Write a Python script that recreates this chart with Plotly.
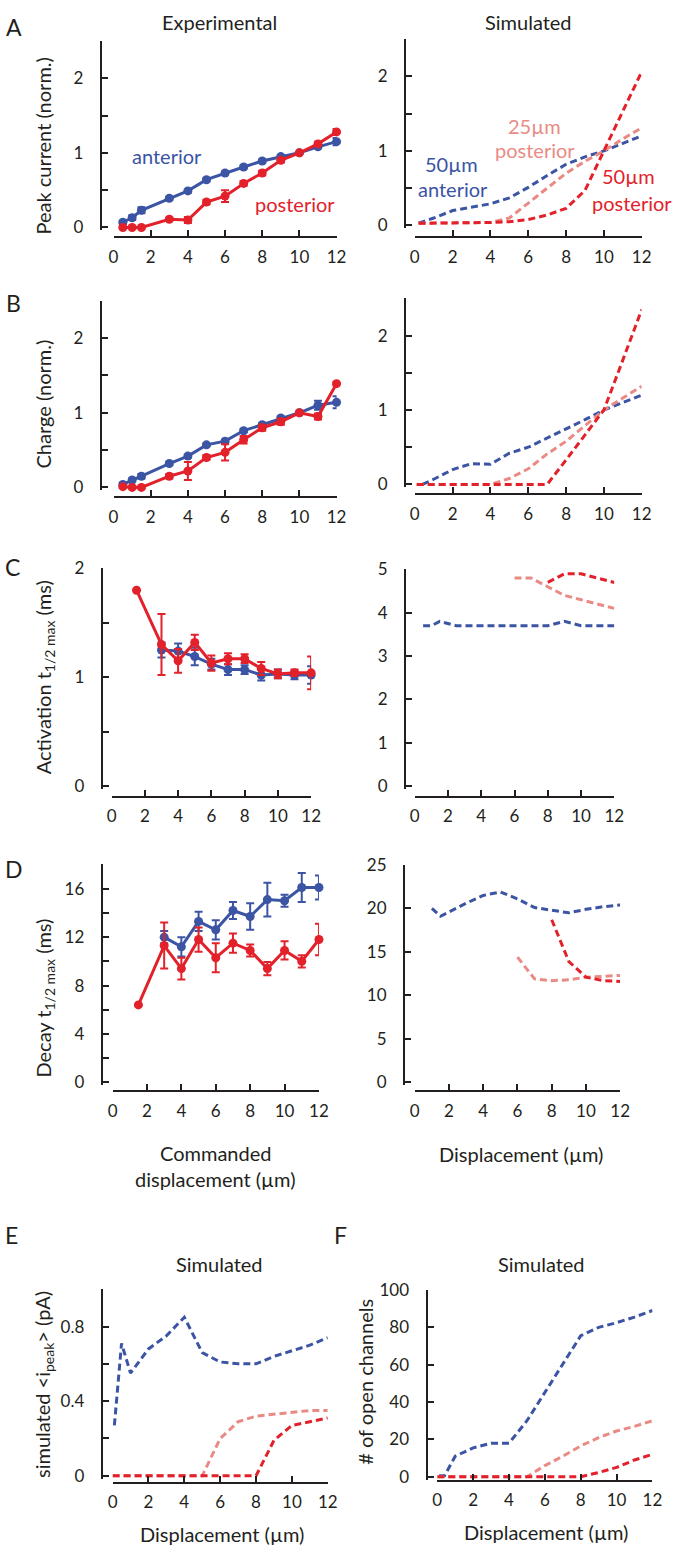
import plotly.graph_objects as go

W, H = 683, 1551
BLUE = '#3B54A4'
RED = '#E3212B'
PINK = '#E98A84'
INK = '#231F20'
FONT = 'Lato'

# ---------------- data ----------------
exp_x = [0.5, 1, 1.5, 3, 4, 5, 6, 7, 8, 9, 10, 11, 12]
# A: peak current, experimental
a_ant = [0.07, 0.13, 0.23, 0.39, 0.49, 0.64, 0.73, 0.81, 0.89, 0.95, 1.0, 1.08, 1.15]
a_ant_err = [0.02, 0.03, 0.04, 0.02, 0.02, 0.02, 0.02, 0.02, 0.02, 0.02, 0.0, 0.02, 0.05]
a_post = [0.0, 0.0, 0.0, 0.11, 0.10, 0.34, 0.42, 0.59, 0.73, 0.90, 1.0, 1.12, 1.28]
a_post_err = [0.01, 0.01, 0.01, 0.02, 0.04, 0.03, 0.08, 0.03, 0.03, 0.03, 0.0, 0.03, 0.04]
# A: simulated
sim_x = [0.2, 1, 2, 3, 4, 5, 6, 7, 8, 9, 10, 11, 12]
a_sim_ant = [0.03, 0.10, 0.20, 0.25, 0.29, 0.37, 0.51, 0.67, 0.82, 0.92, 1.0, 1.10, 1.20]
a_sim_p25 = [0.03, 0.03, 0.03, 0.03, 0.04, 0.10, 0.30, 0.50, 0.70, 0.86, 1.0, 1.16, 1.31]
a_sim_p50 = [0.03, 0.03, 0.03, 0.03, 0.04, 0.05, 0.08, 0.14, 0.23, 0.47, 1.0, 1.53, 2.06]

# B: charge, experimental
b_ant = [0.04, 0.10, 0.15, 0.32, 0.42, 0.57, 0.62, 0.76, 0.84, 0.93, 1.0, 1.10, 1.14]
b_ant_err = [0.02, 0.02, 0.03, 0.02, 0.02, 0.02, 0.02, 0.02, 0.02, 0.02, 0.0, 0.06, 0.08]
b_post = [0.01, 0.0, 0.0, 0.15, 0.22, 0.40, 0.47, 0.64, 0.80, 0.88, 1.0, 0.95, 1.39]
b_post_err = [0.01, 0.01, 0.01, 0.03, 0.12, 0.03, 0.11, 0.05, 0.04, 0.04, 0.0, 0.04, 0.02]
# B: simulated
b_sim_ant_x = [0.4, 1, 2, 3, 4, 5, 6, 7, 8, 9, 10, 11, 12]
b_sim_ant = [0.0, 0.07, 0.20, 0.28, 0.27, 0.42, 0.50, 0.62, 0.74, 0.87, 1.0, 1.10, 1.20]
b_sim_x = [0.1, 1, 2, 3, 4, 5, 6, 7, 8, 9, 10, 11, 12]
b_sim_p25 = [0.0, 0.0, 0.0, 0.0, 0.0, 0.08, 0.21, 0.41, 0.58, 0.79, 1.0, 1.16, 1.32]
b_sim_p50 = [0.0, 0.0, 0.0, 0.0, 0.0, 0.0, 0.0, 0.0, 0.33, 0.67, 1.0, 1.67, 2.35]

# C: activation t1/2, experimental
c_post_x = [1.5, 3, 4, 5, 6, 7, 8, 9, 10, 11, 12]
c_post = [1.80, 1.30, 1.15, 1.32, 1.13, 1.17, 1.17, 1.08, 1.03, 1.04, 1.04]
c_post_err = [0.0, 0.28, 0.11, 0.07, 0.07, 0.05, 0.04, 0.06, 0.04, 0.03, 0.15]
c_ant_x = [3, 4, 5, 6, 7, 8, 9, 10, 11, 12]
c_ant = [1.25, 1.24, 1.19, 1.12, 1.07, 1.07, 1.02, 1.03, 1.02, 1.02]
c_ant_err = [0.07, 0.07, 0.08, 0.05, 0.05, 0.04, 0.05, 0.04, 0.04, 0.08]
# C: simulated
c_sim_ant_x = [0.5, 1, 1.5, 2.5, 4, 6, 8, 9, 10, 12]
c_sim_ant = [3.7, 3.7, 3.8, 3.7, 3.7, 3.7, 3.7, 3.8, 3.7, 3.7]
c_sim_p25_x = [6, 7, 8, 9, 10, 11, 12]
c_sim_p25 = [4.8, 4.8, 4.6, 4.4, 4.3, 4.2, 4.1]
c_sim_p50_x = [8, 9, 10, 11, 12]
c_sim_p50 = [4.7, 4.9, 4.9, 4.8, 4.7]

# D: decay t1/2, experimental
d_post_x = [1.5, 3, 4, 5, 6, 7, 8, 9, 10, 11, 12]
d_post = [6.4, 11.3, 9.4, 11.8, 10.3, 11.5, 10.9, 9.4, 10.9, 10.0, 11.8]
d_post_err = [0.0, 1.9, 0.9, 1.0, 1.2, 0.8, 0.5, 0.55, 0.75, 0.5, 1.3]
d_ant_x = [3, 4, 5, 6, 7, 8, 9, 10, 11, 12]
d_ant = [12.0, 11.2, 13.3, 12.6, 14.2, 13.7, 15.1, 15.0, 16.1, 16.1]
d_ant_err = [0.5, 0.8, 0.8, 0.8, 0.7, 1.1, 1.4, 0.5, 1.2, 1.0]
# D: simulated
d_sim_ant_x = [1, 1.5, 2, 3, 4, 5, 6, 7, 8, 9, 10, 11, 12]
d_sim_ant = [20.0, 19.1, 19.6, 20.6, 21.5, 21.9, 21.1, 20.1, 19.8, 19.5, 19.9, 20.2, 20.4]
d_sim_p25_x = [6, 7, 8, 9, 10, 11, 12]
d_sim_p25 = [14.4, 11.9, 11.7, 11.8, 12.1, 12.2, 12.3]
d_sim_p50_x = [8, 9, 10, 11, 12]
d_sim_p50 = [18.7, 13.9, 12.1, 11.7, 11.6]

# E: simulated single-channel peak current
e_ant_x = [0.1, 0.5, 1, 2, 3, 4, 5, 6, 7, 8, 9, 10, 11, 12]
e_ant = [0.27, 0.71, 0.55, 0.68, 0.75, 0.85, 0.66, 0.61, 0.60, 0.60, 0.64, 0.67, 0.70, 0.74]
ef_x = [0, 1, 2, 3, 4, 5, 6, 7, 8, 9, 10, 11, 12]
e_p25 = [0, 0, 0, 0, 0, 0, 0.20, 0.29, 0.32, 0.33, 0.34, 0.35, 0.35]
e_p50 = [0, 0, 0, 0, 0, 0, 0, 0, 0, 0.19, 0.27, 0.29, 0.31]

# F: number of open channels
f_ant_x = [0.1, 0.4, 1, 2, 3, 4, 5, 6, 7, 8, 9, 10, 11, 12]
f_ant = [0.5, 0.5, 11, 15.5, 18, 18, 30, 45, 60, 75.5, 80, 82.5, 85.5, 89]
f_p25 = [0, 0, 0, 0, 0, 0, 6, 11, 16.5, 21, 24.5, 27, 30]
f_p50 = [0, 0, 0, 0, 0, 0, 0, 0, 0, 2.3, 5, 9, 12]

x_ticks = [0, 2, 4, 6, 8, 10, 12]

fig = go.Figure()
layout = {}


def px(x):
    return x / W


def py(y):
    return 1 - y / H


def panel(n, x0, x12, yax, y0, ppu, ytop, xline, yvals, minor_step):
    pad = 3.0
    xa = 'xaxis' if n == 1 else 'xaxis%d' % n
    ya = 'yaxis' if n == 1 else 'yaxis%d' % n
    layout[xa] = dict(domain=[px(x0), px(x12)], range=[0, 12], anchor='free',
                      position=py(xline), showline=True, linewidth=2.2, linecolor=INK,
                      ticks='inside', ticklen=6, tickwidth=2.2, tickcolor=INK,
                      tickvals=x_ticks, ticktext=[str(v) for v in x_ticks],
                      showgrid=False, zeroline=False, ticklabelstandoff=4,
                      tickfont=dict(family=FONT, size=17, color=INK))
    yd = dict(domain=[py(y0 + pad), py(y0 - ytop * ppu)], range=[-pad / ppu, ytop],
              anchor='free', position=px(yax), showline=True, linewidth=2.2,
              linecolor=INK, ticks='inside', ticklen=6, tickwidth=2.2, tickcolor=INK,
              tickvals=yvals, ticktext=[('%g' % v) for v in yvals],
              showgrid=False, zeroline=False, ticklabelstandoff=13,
              tickfont=dict(family=FONT, size=17, color=INK))
    if minor_step:
        yd['minor'] = dict(tick0=0, dtick=minor_step, ticks='inside', ticklen=6,
                           tickwidth=2.2, tickcolor=INK, showgrid=False)
    layout[ya] = yd
    return ('x' if n == 1 else 'x%d' % n), ('y' if n == 1 else 'y%d' % n)


def exp_trace(xr, yr, x, y, err, color):
    fig.add_trace(go.Scatter(x=x, y=y, xaxis=xr, yaxis=yr, mode='lines+markers',
                             line=dict(color=color, width=3),
                             marker=dict(color=color, size=9),
                             error_y=dict(type='data', array=err, visible=True,
                                          color=color, thickness=2, width=4),
                             cliponaxis=False, showlegend=False))


def sim_trace(xr, yr, x, y, color):
    fig.add_trace(go.Scatter(x=x, y=y, xaxis=xr, yaxis=yr, mode='lines',
                             line=dict(color=color, width=3, dash='7px,4px'),
                             showlegend=False))


# A
xr, yr = panel(1, 111, 339, 98, 219, 75.5, 2.5, 229, [0, 1, 2], 0.5)
exp_trace(xr, yr, exp_x, a_ant, a_ant_err, BLUE)
exp_trace(xr, yr, exp_x, a_post, a_post_err, RED)
xr, yr = panel(2, 419, 651, 409, 217, 75.5, 2.5, 229, [0, 1, 2], 0.5)
sim_trace(xr, yr, sim_x, a_sim_ant, BLUE)
sim_trace(xr, yr, sim_x, a_sim_p25, PINK)
sim_trace(xr, yr, sim_x, a_sim_p50, RED)

# B
xr, yr = panel(3, 111, 339, 98, 482, 75.5, 2.5, 492, [0, 1, 2], 0.5)
exp_trace(xr, yr, exp_x, b_ant, b_ant_err, BLUE)
exp_trace(xr, yr, exp_x, b_post, b_post_err, RED)
xr, yr = panel(4, 419, 651, 409, 479, 75.3, 2.5, 489, [0, 1, 2], 0.5)
sim_trace(xr, yr, b_sim_ant_x, b_sim_ant, BLUE)
sim_trace(xr, yr, b_sim_x, b_sim_p25, PINK)
sim_trace(xr, yr, b_sim_x, b_sim_p50, RED)

# C
xr, yr = panel(5, 109, 313, 99, 784, 110, 2, 795, [0, 1, 2], 0.5)
exp_trace(xr, yr, c_ant_x, c_ant, c_ant_err, BLUE)
exp_trace(xr, yr, c_post_x, c_post, c_post_err, RED)
xr, yr = panel(6, 419, 623, 409, 784, 43.8, 5, 795, [0, 1, 2, 3, 4, 5], None)
sim_trace(xr, yr, c_sim_ant_x, c_sim_ant, BLUE)
sim_trace(xr, yr, c_sim_p25_x, c_sim_p25, PINK)
sim_trace(xr, yr, c_sim_p50_x, c_sim_p50, RED)

# D
xr, yr = panel(7, 110, 321, 99, 1084, 12.25, 18, 1093, [0, 4, 8, 12, 16], 2)
exp_trace(xr, yr, d_ant_x, d_ant, d_ant_err, BLUE)
exp_trace(xr, yr, d_post_x, d_post, d_post_err, RED)
xr, yr = panel(8, 419, 629, 408, 1084, 8.8, 25, 1093, [0, 5, 10, 15, 20, 25], None)
sim_trace(xr, yr, d_sim_ant_x, d_sim_ant, BLUE)
sim_trace(xr, yr, d_sim_p25_x, d_sim_p25, PINK)
sim_trace(xr, yr, d_sim_p50_x, d_sim_p50, RED)

# E
xr, yr = panel(9, 110, 330, 99, 1482, 188.75, 1.0, 1489, [0, 0.4, 0.8], 0.2)
sim_trace(xr, yr, e_ant_x, e_ant, BLUE)
sim_trace(xr, yr, ef_x, e_p25, PINK)
sim_trace(xr, yr, ef_x, e_p50, RED)

# F
xr, yr = panel(10, 442, 662, 431, 1483, 1.89, 100, 1487, [0, 20, 40, 60, 80, 100], None)
sim_trace(xr, yr, f_ant_x, f_ant, BLUE)
sim_trace(xr, yr, ef_x, f_p25, PINK)
sim_trace(xr, yr, ef_x, f_p50, RED)

ann = []


def text(x, y, s, size=20, color=INK, angle=0):
    ann.append(dict(x=px(x), y=py(y), xref='paper', yref='paper', text=s, showarrow=False,
                    textangle=angle, xanchor='center', yanchor='middle',
                    font=dict(family=FONT, size=size, color=color)))


# panel letters
for letter, lx, ly in [('A', 9, 16), ('B', 9, 295), ('C', 8, 563), ('D', 9, 868),
                       ('E', 7, 1238), ('F', 343, 1238)]:
    text(lx, ly, letter, size=23)

# column titles
text(219, 11, 'Experimental', size=20)
text(535, 11, 'Simulated', size=20)
text(219, 1268, 'Simulated', size=20)
text(549, 1268, 'Simulated', size=20)

# y titles
text(39, 137, 'Peak current (norm.)', size=20, angle=-90)
text(39, 398, 'Charge (norm.)', size=20, angle=-90)
text(40, 674, 'Activation t<sub>1/2 max</sub> (ms)', size=20, angle=-90)
text(40, 999, 'Decay t<sub>1/2 max</sub> (ms)', size=20, angle=-90)
text(40, 1390, 'simulated &lt;i<sub>peak</sub>&gt; (pA)', size=20, angle=-90)
text(368, 1387, '# of open channels', size=20, angle=-90)

# x titles
text(215, 1155, 'Commanded', size=20)
text(215, 1182, 'displacement (µm)', size=20)
text(528, 1156, 'Displacement (µm)', size=20)
text(222, 1541, 'Displacement (µm)', size=20)
text(553, 1539, 'Displacement (µm)', size=20)

# series labels
text(166, 147, 'anterior', size=20, color=BLUE)
text(297, 195, 'posterior', size=20, color=RED)
text(541, 116, '25µm', size=20, color=PINK)
text(542, 141, 'posterior', size=20, color=PINK)
text(457, 155, '50µm', size=20, color=BLUE)
text(458, 180, 'anterior', size=20, color=BLUE)
text(638, 167, '50µm', size=20, color=RED)
text(641, 194, 'posterior', size=20, color=RED)

fig.update_layout(width=W, height=H, margin=dict(l=0, r=0, t=0, b=0),
                  paper_bgcolor='white', plot_bgcolor='white', showlegend=False,
                  font=dict(family=FONT, color=INK), annotations=ann, **layout)

fig.write_html("out.html", config={'displayModeBar': False},
               post_script="document.body.style.margin='0px';")
